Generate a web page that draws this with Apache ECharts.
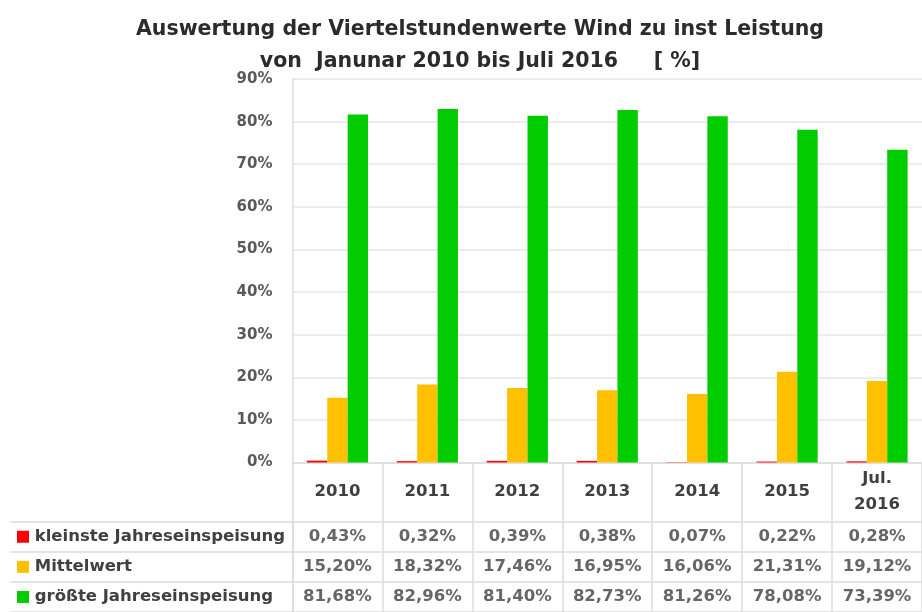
<!DOCTYPE html>
<html>
<head>
<meta charset="utf-8">
<script src="https://cdn.jsdelivr.net/npm/echarts@6/dist/echarts.min.js"></script>
<style>
    html, body {margin: 0; padding: 0; background: #fff;}
    #chart {width: 922px; height: 612px;}
</style>
</head>
<body>
<div id="chart"></div>
<script>
// Jahre (Spalten)
var years = ['2010', '2011', '2012', '2013', '2014', '2015', 'Jul.\n2016'];
// Zeilen der Datentabelle
var rowNames = ['kleinste Jahreseinspeisung', 'Mittelwert', 'größte Jahreseinspeisung'];
// Werte in %
var minVals  = [0.43, 0.32, 0.39, 0.38, 0.07, 0.22, 0.28];
var meanVals = [15.20, 18.32, 17.46, 16.95, 16.06, 21.31, 19.12];
var maxVals  = [81.68, 82.96, 81.40, 82.73, 81.26, 78.08, 73.39];
var yTicks   = [0, 10, 20, 30, 40, 50, 60, 70, 80, 90];

var colors = ['#ff0000', '#ffc000', '#00cc00'];
var font = 'DejaVu Sans';
var lineColor = '#dcdcdc';
var tableSize = 16.5;

var chart = echarts.init(document.getElementById('chart'));

function pct(v) {
    return v.toFixed(2).replace('.', ',') + '%';
}

// Zellen der Tabelle: [spalte, zeile, text]
var cells = [];
[minVals, meanVals, maxVals].forEach(function (arr, r) {
    arr.forEach(function (v, c) {
        cells.push([c, r, pct(v)]);
    });
});

var option = {
    backgroundColor: '#fff',
    animation: false,
    title: {
        text: 'Auswertung der Viertelstundenwerte Wind zu inst Leistung\nvon  Janunar 2010 bis Juli 2016     [ %]',
        left: 475,
        top: 9,
        textAlign: 'center',
        textStyle: {
            fontFamily: font,
            fontSize: 20.5,
            fontWeight: 'bold',
            color: '#2b2b2b',
            lineHeight: 32
        }
    },
    grid: [
        {left: 292.5, top: 79, width: 637, height: 383.5},
        {left: 292.5, top: 521.7, width: 637, height: 93}
    ],
    xAxis: [
        {
            type: 'category',
            gridIndex: 0,
            data: years,
            axisLine: {lineStyle: {color: lineColor, width: 1.5}},
            axisTick: {show: true, interval: 0, length: 59, lineStyle: {color: lineColor, width: 1.5}},
            axisLabel: {
                interval: 0,
                margin: 29.5,
                verticalAlign: 'middle',
                lineHeight: 26,
                fontFamily: font,
                fontSize: tableSize,
                fontWeight: 'bold',
                color: '#404040'
            }
        },
        {
            type: 'category',
            gridIndex: 1,
            data: years,
            axisLine: {show: false},
            axisTick: {show: false},
            axisLabel: {show: false},
            splitLine: {show: true, interval: 0, lineStyle: {color: lineColor, width: 1.5}}
        }
    ],
    yAxis: [
        {
            type: 'value',
            gridIndex: 0,
            min: yTicks[0],
            max: yTicks[yTicks.length - 1],
            interval: 10,
            axisLine: {show: true, lineStyle: {color: lineColor, width: 1.5}},
            axisTick: {show: false},
            splitLine: {lineStyle: {color: '#e6e6e6', width: 1.5}},
            axisLabel: {
                margin: 20,
                formatter: '{value}%',
                fontFamily: font,
                fontSize: 15,
                fontWeight: 'bold',
                color: '#595959'
            }
        },
        {
            type: 'category',
            gridIndex: 1,
            data: rowNames,
            inverse: true,
            axisLine: {show: true, lineStyle: {color: lineColor, width: 1.5}},
            axisTick: {show: true, length: 282, lineStyle: {color: lineColor, width: 1.5}},
            splitLine: {show: true, lineStyle: {color: lineColor, width: 1.5}},
            axisLabel: {
                align: 'left',
                margin: 275.5,
                formatter: function (name, i) {
                    return '{k' + i + '|} ' + name;
                },
                fontFamily: font,
                fontSize: tableSize,
                fontWeight: 'bold',
                color: '#404040',
                rich: {
                    k0: {width: 12, height: 12, backgroundColor: colors[0]},
                    k1: {width: 12, height: 12, backgroundColor: colors[1]},
                    k2: {width: 12, height: 12, backgroundColor: colors[2]}
                }
            }
        }
    ],
    series: [
        {
            name: rowNames[0], type: 'bar', data: minVals,
            barGap: '0%', barCategoryGap: '32%',
            itemStyle: {color: colors[0]}
        },
        {
            name: rowNames[1], type: 'bar', data: meanVals,
            barGap: '0%', barCategoryGap: '32%',
            itemStyle: {color: colors[1]}
        },
        {
            name: rowNames[2], type: 'bar', data: maxVals,
            barGap: '0%', barCategoryGap: '32%',
            itemStyle: {color: colors[2]}
        },
        {
            type: 'scatter',
            xAxisIndex: 1,
            yAxisIndex: 1,
            data: cells,
            symbolSize: 0,
            silent: true,
            label: {
                show: true,
                position: 'inside',
                formatter: function (p) { return p.value[2]; },
                fontFamily: font,
                fontSize: tableSize,
                fontWeight: 'bold',
                color: '#404040'
            }
        }
    ]
};

chart.setOption(option);
</script>
</body>
</html>
